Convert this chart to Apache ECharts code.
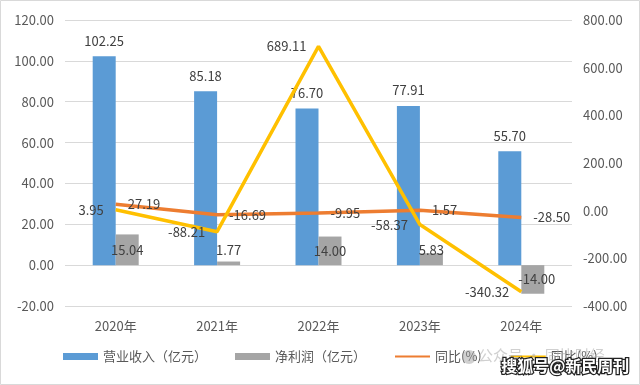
<!DOCTYPE html>
<html><head><meta charset="utf-8">
<script src="https://cdn.jsdelivr.net/npm/echarts@6/dist/echarts.min.js"></script>
<style>html,body{margin:0;padding:0;background:#fff}#c{width:640px;height:385px}</style>
</head><body><div id="c"></div>
<script>
var categories = ['2020年','2021年','2022年','2023年','2024年'];
var revenue = [102.25, 85.18, 76.70, 77.91, 55.70];
var netProfit = [15.04, 1.77, 14.00, 5.83, -14.00];
var revenueYoY = [27.19, -16.69, -9.95, 1.57, -28.50];
var profitYoY = [3.95, -88.21, 689.11, -58.37, -340.32];
var seriesNames = ['营业收入（亿元）','净利润（亿元）','同比(%)','同比(%) '];
var leftTicks = {min:-20, max:120, interval:20};
var rightTicks = {min:-400, max:800, interval:200};

var FONT = '"Noto Sans CJK SC","Liberation Sans",sans-serif';
var labelColor = '#404040';
var gpOffsets = [[0,0],[0,-13],[0,0],[0,-9],[4,0]];

var chart = echarts.init(document.getElementById('c'));
chart.setOption({
  animation:false,
  textStyle:{fontFamily:FONT},
  grid:{left:65,right:68,top:20,bottom:79},
  legend:{
    bottom:17,left:58,itemWidth:35,itemHeight:7,itemGap:28,
    textStyle:{fontSize:13,color:'#595959',fontFamily:FONT},
    data:seriesNames.map(function(n,i){
      return i<2 ? {name:n, icon:'rect'} : {name:n, itemStyle:{opacity:0}};
    })
  },
  xAxis:{type:'category',data:categories,
    axisLine:{show:false,onZero:false},axisTick:{show:false},
    axisLabel:{fontSize:13,color:'#595959',margin:14,fontFamily:FONT}},
  yAxis:[
    {type:'value',min:leftTicks.min,max:leftTicks.max,interval:leftTicks.interval,
     axisLine:{show:false},axisTick:{show:false},
     splitLine:{lineStyle:{color:'#d9d9d9',width:1}},
     axisLabel:{fontSize:13,color:'#595959',margin:11,formatter:function(v){return v.toFixed(2);}}},
    {type:'value',min:rightTicks.min,max:rightTicks.max,interval:rightTicks.interval,
     axisLine:{show:false},axisTick:{show:false},splitLine:{show:false},
     axisLabel:{fontSize:13,color:'#595959',margin:11,formatter:function(v){return v.toFixed(2);}}}
  ],
  series:[
    {name:seriesNames[0],type:'bar',data:revenue,barWidth:23,barGap:'0%',
     itemStyle:{color:'#5B9BD5'},
     label:{show:true,position:'top',distance:9,fontSize:13,color:labelColor,formatter:function(p){return p.value.toFixed(2);}}},
    {name:seriesNames[1],type:'bar',data:netProfit.map(function(v,i){
        return {value:v,label:{offset:gpOffsets[i]}};}),barWidth:23,barGap:'0%',
     itemStyle:{color:'#A5A5A5'},
     label:{show:true,position:'inside',fontSize:13,color:labelColor,formatter:function(p){return p.value.toFixed(2);}}},
    {name:seriesNames[2],type:'line',yAxisIndex:1,data:revenueYoY,symbol:'circle',symbolSize:0,showSymbol:true,z:5,
     lineStyle:{color:'#ED7D31',width:3.5},itemStyle:{color:'#ED7D31'},
     label:{show:true,position:'right',distance:12,fontSize:13,color:labelColor,formatter:function(p){return p.value.toFixed(2);}}},
    {name:seriesNames[3],type:'line',yAxisIndex:1,data:profitYoY,symbol:'circle',symbolSize:0,showSymbol:true,z:6,
     lineStyle:{color:'#FFC000',width:3.5},itemStyle:{color:'#FFC000'},
     label:{show:true,position:'left',distance:12,fontSize:13,color:labelColor,formatter:function(p){return p.value.toFixed(2);}}}
  ],
  graphic:[
    {type:'rect',shape:{x:0.5,y:0.5,width:639,height:384},style:{fill:null,stroke:'#d9d9d9',lineWidth:1},silent:true},
    {type:'circle',shape:{cx:469,cy:357,r:7},style:{fill:'rgba(150,150,150,0.45)'},z:100},
    {type:'text',left:478,top:348,style:{text:'公众号 · 同比财经',fill:'rgba(170,170,170,0.55)',font:'15px '+FONT},z:100},
    {type:'text',left:500,top:357,style:{text:'搜狐号@新民周刊',fill:'#fff',stroke:'#222',lineWidth:2.5,font:'bold 16px '+FONT},z:101}
  ]
});
</script></body></html>
